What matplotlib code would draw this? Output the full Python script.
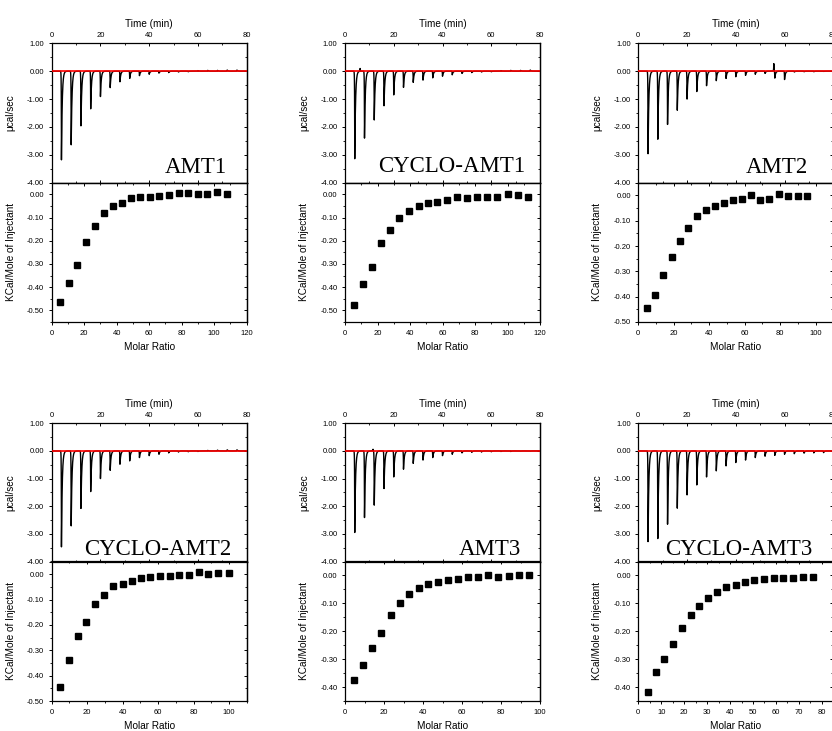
import numpy as np
import matplotlib
matplotlib.use("Agg")
import matplotlib.pyplot as plt
from matplotlib.ticker import MultipleLocator, FormatStrFormatter

plt.rcParams['font.family'] = ['Liberation Sans', 'DejaVu Sans']
plt.rcParams['axes.unicode_minus'] = False

# ---------------------------------------------------------------- data
names = ["AMT1", "CYCLO-AMT1", "AMT2", "CYCLO-AMT2", "AMT3", "CYCLO-AMT3"]

# injection times (min)
injection_times = [4, 8, 12, 16, 20, 24, 28, 32, 36, 40,
                   44, 48, 52, 56, 60, 64, 68, 72, 76]

# raw heat-flow peak heights (ucal/sec) per injection
peaks_amt1 = [-3.18, -2.64, -1.96, -1.35, -0.91, -0.59, -0.38, -0.26, -0.16, -0.11,
              -0.07, -0.05, -0.03, -0.02, 0.02, 0.03, 0.03, 0.04, 0.04]
peaks_cyclo_amt1 = [-3.14, -2.40, -1.75, -1.24, -0.85, -0.58, -0.40, -0.32, -0.24, -0.18,
                    -0.13, -0.08, -0.05, -0.03, -0.02, 0.02, 0.03, 0.03, 0.04]
peaks_amt2 = [-2.96, -2.44, -1.91, -1.40, -1.00, -0.73, -0.52, -0.34, -0.26, -0.20,
              -0.15, -0.11, -0.08, -0.25, -0.30, -0.03, -0.02, -0.02, -0.01]
peaks_cyclo_amt2 = [-3.47, -2.71, -2.08, -1.47, -1.00, -0.70, -0.48, -0.36, -0.24, -0.17,
                    -0.12, -0.07, -0.04, -0.03, -0.02, 0.02, 0.03, 0.04, 0.04]
peaks_amt3 = [-2.95, -2.41, -1.96, -1.36, -0.94, -0.66, -0.45, -0.33, -0.24, -0.17,
              -0.12, -0.07, -0.05, -0.04, -0.03, -0.02, -0.02, -0.01, -0.01]
peaks_cyclo_amt3 = [-3.28, -3.17, -2.65, -2.07, -1.59, -1.23, -0.94, -0.72, -0.54, -0.42,
                    -0.33, -0.24, -0.19, -0.16, -0.12, -0.10, -0.08, -0.07, -0.06]

# isolated positive excursions in the raw traces: (time, ucal/sec)
spikes_amt1 = []
spikes_cyclo_amt1 = [(6.2, 0.10)]
spikes_amt2 = [(55.6, 0.27)]
spikes_cyclo_amt2 = []
spikes_amt3 = [(11.5, 0.06)]
spikes_cyclo_amt3 = []

# integrated heats: molar ratio and kcal/mole of injectant
ratio_amt1 = [5.1, 10.5, 15.8, 21.3, 26.7, 32.2, 37.7, 43.5, 48.8, 54.6,
              60.3, 66.3, 72.0, 78.2, 84.1, 89.8, 95.8, 101.9, 108.1]
heat_amt1 = [-0.463, -0.383, -0.305, -0.207, -0.135, -0.079, -0.050, -0.037, -0.017, -0.010,
             -0.010, -0.007, -0.004, 0.004, 0.004, 0.000, 0.001, 0.010, 0.000]

ratio_cyclo_amt1 = [5.3, 10.8, 16.5, 22.2, 27.9, 33.4, 39.5, 45.4, 51.0, 56.9,
                    63.0, 69.1, 75.0, 81.1, 87.2, 93.8, 100.1, 106.4, 112.7]
heat_cyclo_amt1 = [-0.476, -0.386, -0.313, -0.208, -0.154, -0.102, -0.071, -0.049, -0.039, -0.032,
                   -0.023, -0.010, -0.016, -0.010, -0.010, -0.010, 0.003, -0.004, -0.013]

ratio_amt2 = [4.7, 9.4, 14.1, 18.8, 23.5, 28.3, 33.2, 38.1, 43.2, 48.2,
              53.3, 58.3, 63.4, 68.7, 73.9, 79.2, 84.6, 89.9, 95.3]
heat_amt2 = [-0.445, -0.393, -0.315, -0.245, -0.179, -0.128, -0.082, -0.058, -0.042, -0.029,
             -0.018, -0.016, 0.001, -0.018, -0.013, 0.004, -0.001, -0.001, -0.001]

ratio_cyclo_amt2 = [4.7, 9.6, 14.7, 19.5, 24.6, 29.7, 34.8, 40.0, 45.3, 50.4,
                    55.6, 61.1, 66.5, 71.8, 77.3, 82.9, 88.3, 94.0, 99.8]
heat_cyclo_amt2 = [-0.445, -0.339, -0.242, -0.188, -0.116, -0.083, -0.047, -0.037, -0.026, -0.014,
                   -0.012, -0.009, -0.007, -0.004, -0.003, 0.009, -0.001, 0.003, 0.005]

ratio_amt3 = [4.6, 9.1, 13.8, 18.6, 23.4, 28.0, 32.8, 37.8, 42.7, 47.7,
              52.8, 57.9, 63.1, 68.2, 73.3, 78.6, 83.9, 89.2, 94.5]
heat_amt3 = [-0.376, -0.322, -0.259, -0.205, -0.141, -0.100, -0.067, -0.046, -0.031, -0.024,
             -0.017, -0.011, -0.006, -0.004, 0.000, -0.005, -0.001, 0.001, 0.001]

ratio_cyclo_amt3 = [4.1, 7.7, 11.4, 15.1, 19.0, 22.9, 26.6, 30.5, 34.4, 38.3,
                    42.4, 46.6, 50.6, 54.7, 59.0, 63.2, 67.6, 71.8, 76.1]
heat_cyclo_amt3 = [-0.417, -0.346, -0.300, -0.245, -0.190, -0.143, -0.109, -0.082, -0.059, -0.043,
                   -0.036, -0.024, -0.018, -0.014, -0.008, -0.008, -0.008, -0.004, -0.004]

peaks = [peaks_amt1, peaks_cyclo_amt1, peaks_amt2, peaks_cyclo_amt2, peaks_amt3, peaks_cyclo_amt3]
spikes = [spikes_amt1, spikes_cyclo_amt1, spikes_amt2, spikes_cyclo_amt2, spikes_amt3, spikes_cyclo_amt3]
ratios = [ratio_amt1, ratio_cyclo_amt1, ratio_amt2, ratio_cyclo_amt2, ratio_amt3, ratio_cyclo_amt3]
heats = [heat_amt1, heat_cyclo_amt1, heat_amt2, heat_cyclo_amt2, heat_amt3, heat_cyclo_amt3]

# ---------------------------------------------------------------- layout
W, H = 832, 731
fig = plt.figure(figsize=(W / 100, H / 100), dpi=100)

col_left = [51.7, 345.0, 638.3]
panel_w = 195.0
rows = [(43.3, 139.4, 139.3), (423.3, 138.2, 139.5)]   # top, upper height, lower height

lower_xlim = [(0, 120), (0, 120), (0, 110), (0, 110), (0, 100), (0, 85)]
lower_xstep = [20, 20, 20, 20, 20, 10]
lower_ylim = [(-0.55, 0.05), (-0.55, 0.05), (-0.50, 0.05), (-0.50, 0.05), (-0.45, 0.05), (-0.45, 0.05)]
label_pos = [(0.897, 0.072), (0.923, 0.079), (0.872, 0.072),
             (0.923, 0.047), (0.901, 0.047), (0.892, 0.047)]

TICK_FS = 5.5
LABEL_FS = 7.2


def px_axes(left, top, w, h):
    return fig.add_axes([left / W, 1 - (top + h) / H, w / W, h / H])


def style_ticks(ax):
    for s in ax.spines.values():
        s.set_linewidth(0.9)
    ax.tick_params(which='major', length=2.4, width=0.7, labelsize=TICK_FS, pad=3)
    ax.tick_params(which='minor', length=1.5, width=0.6)


def inward_secondary(sec, step):
    sec_axis = sec.yaxis if hasattr(sec, 'yaxis') and sec._orientation == 'y' else sec.xaxis
    sec_axis.set_major_locator(MultipleLocator(step))
    sec_axis.set_minor_locator(MultipleLocator(step / 2))
    sec.tick_params(which='both', direction='in', labelright=False, labeltop=False)
    sec.tick_params(which='major', length=2.4, width=0.7)
    sec.tick_params(which='minor', length=1.5, width=0.6)
    for s in sec.spines.values():
        s.set_linewidth(0.9)


t = np.linspace(0, 80, 16001)

for i, name in enumerate(names):
    r, c = divmod(i, 3)
    top, h_up, h_lo = rows[r]
    left = col_left[c]

    # ---- raw thermogram
    ax = px_axes(left, top, panel_w, h_up)
    trace = np.zeros_like(t)
    for ti, hi in zip(injection_times, peaks[i]):
        dt = t - ti
        trace += np.where(dt >= 0, hi * np.exp(-np.clip(dt, 0, None) / 0.32),
                          hi * np.exp(np.clip(dt, None, 0) / 0.06))
    for ts, hs in spikes[i]:
        dt = t - ts
        trace += hs * np.exp(-np.abs(dt) / 0.08)
    ax.plot(t, trace, color='black', lw=1.0, zorder=2)
    ax.axhline(0, color='#ff0000', lw=1.2, zorder=3)
    ax.set_xlim(0, 80)
    ax.set_ylim(-4, 1)
    ax.xaxis.set_major_locator(MultipleLocator(20))
    ax.xaxis.set_minor_locator(MultipleLocator(10))
    ax.yaxis.set_major_locator(MultipleLocator(1))
    ax.yaxis.set_minor_locator(MultipleLocator(0.5))
    ax.yaxis.set_major_formatter(FormatStrFormatter('%.2f'))
    ax.xaxis.tick_top()
    ax.xaxis.set_label_position('top')
    style_ticks(ax)
    ax.tick_params(axis='x', which='both', top=True, bottom=True, direction='in')
    ax.tick_params(axis='y', which='both', left=True, right=False, direction='out')
    ax.set_xlabel('Time (min)', fontsize=LABEL_FS, labelpad=4)
    ax.set_ylabel('\u03bccal/sec', fontsize=LABEL_FS)
    ax.yaxis.set_label_coords(-0.185, 0.5)
    inward_secondary(ax.secondary_yaxis('right'), 1)
    lx, ly = label_pos[i]
    ax.text(lx, ly, name, transform=ax.transAxes, ha='right', va='baseline',
            fontsize=16.5, family=['Liberation Serif', 'DejaVu Serif'])

    # ---- integrated heats
    bx = px_axes(left, top + h_up, panel_w, h_lo)
    bx.plot(ratios[i], heats[i], linestyle='none', marker='s', ms=3.7,
            color='black', mec='black')
    bx.set_xlim(*lower_xlim[i])
    bx.set_ylim(*lower_ylim[i])
    bx.xaxis.set_major_locator(MultipleLocator(lower_xstep[i]))
    bx.xaxis.set_minor_locator(MultipleLocator(lower_xstep[i] / 2))
    bx.yaxis.set_major_locator(MultipleLocator(0.1))
    bx.yaxis.set_minor_locator(MultipleLocator(0.05))
    bx.yaxis.set_major_formatter(FormatStrFormatter('%.2f'))
    style_ticks(bx)
    bx.tick_params(which='both', direction='out', top=False, right=False)
    inward_secondary(bx.secondary_xaxis('top'), lower_xstep[i])
    inward_secondary(bx.secondary_yaxis('right'), 0.1)
    bx.set_xlabel('Molar Ratio', fontsize=LABEL_FS, labelpad=4)
    bx.set_ylabel('KCal/Mole of Injectant', fontsize=LABEL_FS)
    bx.yaxis.set_label_coords(-0.185, 0.5)

fig.savefig('out.png', dpi=100)
